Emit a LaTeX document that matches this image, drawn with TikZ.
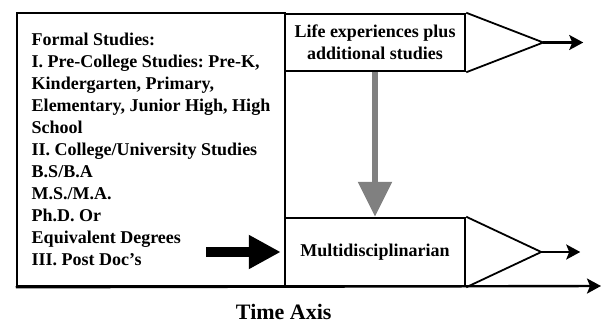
\documentclass[tikz,border=0pt]{standalone}
\usepackage{fontspec}
\setmainfont{Liberation Serif}
\usetikzlibrary{arrows.meta, positioning, calc}
\frenchspacing

\begin{document}
\begin{tikzpicture}[
    x=1pt, y=-1pt,
    box/.style={draw, line width=2.5pt, minimum width=180pt, align=center, inner sep=0pt, font=\fontsize{18}{22}\selectfont\bfseries},
    cone/.style={line width=1.8pt, line join=miter},
    arrow/.style={line width=2.4pt, -{Stealth[length=14pt, width=15pt, inset=3pt]}}
]
    \useasboundingbox (0,0) rectangle (603,324);

    % Left column - formal studies
    \node[box, minimum width=268pt, minimum height=273pt, align=left] (formal) at (151,149.5) {Formal Studies:\\
        I. Pre-College Studies: Pre-K,\\
        Kindergarten, Primary,\\
        Elementary, Junior High, High\\
        School\\
        II. College/University Studies\\
        B.S/B.A\\
        M.S./M.A.\\
        Ph.D. Or\\
        Equivalent Degrees\\
        III. Post Doc's};

    % Right column - outcomes
    \node[box, minimum height=57pt] (life) at (375,42.5) {Life experiences plus\\additional studies};
    \node[box, minimum height=68pt] (multi) at (375,252) {Multidisciplinarian};

    % Cones and outputs
    \coordinate[right=77pt of life.east] (lifetip);
    \coordinate[right=40pt of lifetip] (lifeend);
    \coordinate[right=75pt of multi.east] (multitip);
    \coordinate[right=39pt of multitip] (multiend);
    \draw[cone] (life.north east) -- (lifetip) -- (life.south east);
    \draw[cone] (multi.north east) -- (multitip) -- (multi.south east);
    \draw[arrow] (lifetip) -- (lifeend);
    \draw[arrow] (multitip) -- (multiend);

    % Arrows
    \draw[line width=6pt, gray, -{Triangle[length=35pt, width=33pt]}] (life) -- (multi);
    \coordinate (push) at (206,252);
    \draw[line width=10pt, -{Triangle[length=32pt, width=32pt]}, shorten >=3pt] (push) -- (multi.west);

    % Time axis
    \coordinate (axisend) at (601,286);
    \draw[arrow] (formal.south west) -- (axisend);
    \node[inner sep=0pt, font=\fontsize{22}{26}\selectfont\bfseries, below=17pt of multi.south west] (axislabel) {Time Axis};
\end{tikzpicture}
\end{document}
